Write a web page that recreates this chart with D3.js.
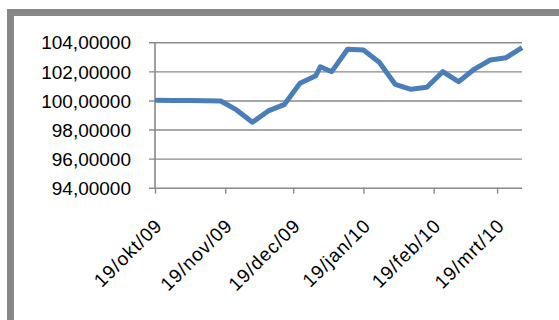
<!DOCTYPE html>
<html>
<head>
<meta charset="utf-8">
<script src="https://cdn.jsdelivr.net/npm/d3@7"></script>
<style>
  html, body { margin: 0; padding: 0; background: #fff; }
  svg { display: block; }
  text { font-family: "Liberation Sans", Arial, sans-serif; fill: #000; }
</style>
</head>
<body>
<svg id="chart" width="559" height="320"></svg>
<script>
// Weekly index values, Oct 2009 – Mar 2010 (plus the year-end quote)
const dates = [
  "2009-10-19", "2009-10-27", "2009-11-03", "2009-11-10", "2009-11-17",
  "2009-11-24", "2009-12-01", "2009-12-08", "2009-12-15", "2009-12-22",
  "2009-12-29", "2009-12-31", "2010-01-05", "2010-01-12", "2010-01-19",
  "2010-01-26", "2010-02-02", "2010-02-09", "2010-02-16", "2010-02-23",
  "2010-03-02", "2010-03-09", "2010-03-16", "2010-03-23", "2010-03-30"
];
const values = [
  100.02, 100.00, 99.99, 99.98, 99.96,
  99.35, 98.50, 99.28, 99.71, 101.18,
  101.70, 102.32, 101.98, 103.52, 103.47,
  102.63, 101.11, 100.77, 100.91, 101.98,
  101.29, 102.16, 102.78, 102.94, 103.63
];
const yTicks = [94, 96, 98, 100, 102, 104];
const xTickDates = ["2009-10-19", "2009-11-19", "2009-12-19", "2010-01-19", "2010-02-19", "2010-03-19"];
const monthNames = ["jan", "feb", "mrt", "apr", "mei", "jun", "jul", "aug", "sep", "okt", "nov", "dec"];

const parse = d3.utcParse("%Y-%m-%d");
const data = dates.map((d, i) => ({ date: parse(d), value: values[i] }));

const svg = d3.select("#chart");
const plot = { left: 155, right: 522, top: 42.3, bottom: 187.7 };

const x = d3.scaleUtc()
  .domain(d3.extent(data, d => d.date))
  .range([plot.left, plot.right]);
const y = d3.scaleLinear()
  .domain([94, 104])
  .range([plot.bottom, plot.top]);

const gridColor = "#8a8a8a";

// Horizontal gridlines with their left tick stubs
const yAxis = d3.axisLeft(y)
  .tickValues(yTicks)
  .tickSize(-(plot.right - plot.left))
  .tickFormat(d => d3.format(".5f")(d).replace(".", ","));
const gy = svg.append("g")
  .attr("transform", `translate(${plot.left},0)`)
  .call(yAxis);
gy.select(".domain").remove();
gy.selectAll(".tick line")
  .attr("x1", -6)
  .attr("stroke", gridColor)
  .attr("stroke-width", 1.4);
gy.selectAll(".tick text")
  .attr("x", -24)
  .attr("dy", "0.35em")
  .attr("font-size", 19)
  .attr("font-family", "Liberation Sans, Arial, sans-serif")
  .attr("fill", "#000");

// Vertical axis line
svg.append("line")
  .attr("x1", plot.left).attr("x2", plot.left)
  .attr("y1", plot.top).attr("y2", plot.bottom)
  .attr("stroke", gridColor).attr("stroke-width", 1.6);

// Horizontal date axis with rotated labels
const xAxis = d3.axisBottom(x)
  .tickValues(xTickDates.map(parse))
  .tickSize(6)
  .tickSizeOuter(0)
  .tickFormat(d => `${d.getUTCDate()}/${monthNames[d.getUTCMonth()]}/${String(d.getUTCFullYear()).slice(2)}`);
const gx = svg.append("g")
  .attr("transform", `translate(0,${plot.bottom})`)
  .call(xAxis);
gx.select(".domain").remove();
gx.selectAll(".tick line")
  .attr("stroke", gridColor)
  .attr("stroke-width", 1.4);
gx.selectAll(".tick text")
  .attr("font-size", 19)
  .attr("font-family", "Liberation Sans, Arial, sans-serif")
  .attr("letter-spacing", "1px")
  .attr("fill", "#000")
  .attr("text-anchor", "end")
  .attr("dy", null)
  .attr("y", null)
  .attr("transform", "translate(8,39) rotate(-45)");

// Data line
const line = d3.line()
  .x(d => x(d.date))
  .y(d => y(d.value));
svg.append("path")
  .datum(data)
  .attr("d", line)
  .attr("fill", "none")
  .attr("stroke", "#4a7ebb")
  .attr("stroke-width", 5)
  .attr("stroke-linejoin", "round")
  .attr("stroke-linecap", "butt");

// Chart frame (runs off the right and bottom edges)
svg.append("rect")
  .attr("x", 10.5).attr("y", 12.5)
  .attr("width", 600).attr("height", 400)
  .attr("fill", "none")
  .attr("stroke", "#878787")
  .attr("stroke-width", 7);
</script>
</body>
</html>
